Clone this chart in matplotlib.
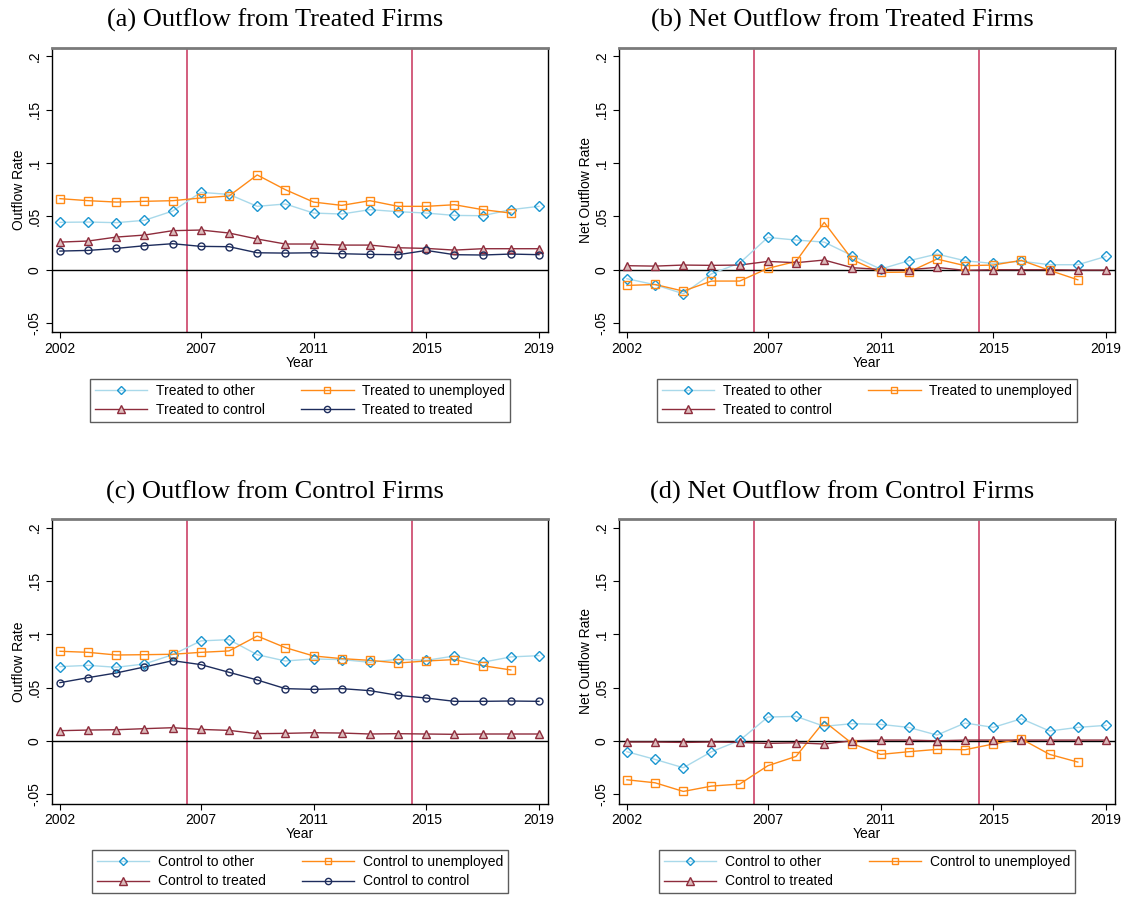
import matplotlib
matplotlib.use("Agg")
import matplotlib.pyplot as plt
from matplotlib.lines import Line2D

plt.rcParams['font.family'] = ['Liberation Sans', 'DejaVu Sans']

years = list(range(2002, 2020))
years_short = years[:-1]  # unemployed series stop in 2018
xticks = [2002, 2007, 2011, 2015, 2019]
yticks = [-0.05, 0, 0.05, 0.1, 0.15, 0.2]
ytick_labels = ['-.05', '0', '.05', '.1', '.15', '.2']
event_years = [2006.5, 2014.5]

# (a) Outflow from treated firms
a_other = [0.0444, 0.0447, 0.0441, 0.0463, 0.0550, 0.0725, 0.0706, 0.0594, 0.0616,
           0.0531, 0.0522, 0.0563, 0.0544, 0.0531, 0.0509, 0.0506, 0.0563, 0.0594]
a_unemp = [0.0666, 0.0647, 0.0634, 0.0641, 0.0647, 0.0672, 0.0691, 0.0888, 0.0750,
           0.0634, 0.0603, 0.0647, 0.0594, 0.0594, 0.0609, 0.0563, 0.0531]
a_control = [0.0259, 0.0269, 0.0306, 0.0325, 0.0366, 0.0372, 0.0344, 0.0288, 0.0241,
             0.0241, 0.0231, 0.0231, 0.0206, 0.0200, 0.0184, 0.0197, 0.0197, 0.0197]
a_treated = [0.0175, 0.0181, 0.0200, 0.0225, 0.0244, 0.0219, 0.0216, 0.0159, 0.0156,
             0.0159, 0.0150, 0.0144, 0.0141, 0.0181, 0.0141, 0.0138, 0.0147, 0.0141]

# (b) Net outflow from treated firms
b_other = [-0.0084, -0.0141, -0.0225, -0.0038, 0.0063, 0.0303, 0.0278, 0.0259, 0.0131,
           0.0006, 0.0084, 0.0147, 0.0084, 0.0059, 0.0080, 0.0047, 0.0047, 0.0125]
b_unemp = [-0.0147, -0.0138, -0.0200, -0.0106, -0.0106, 0.0013, 0.0078, 0.0444, 0.0094,
           -0.0025, -0.0022, 0.0100, 0.0038, 0.0044, 0.0088, -0.0006, -0.0094]
b_control = [0.0038, 0.0034, 0.0044, 0.0041, 0.0044, 0.0078, 0.0066, 0.0091, 0.0019,
             0.0003, 0.0000, 0.0022, -0.0006, 0.0000, 0.0000, 0.0000, -0.0003, -0.0003]

# (c) Outflow from control firms
c_other = [0.0697, 0.0709, 0.0691, 0.0722, 0.0809, 0.0938, 0.0950, 0.0809, 0.0750,
           0.0769, 0.0763, 0.0738, 0.0766, 0.0756, 0.0797, 0.0738, 0.0788, 0.0800]
c_unemp = [0.0841, 0.0831, 0.0806, 0.0809, 0.0813, 0.0831, 0.0844, 0.0984, 0.0875,
           0.0797, 0.0772, 0.0756, 0.0731, 0.0750, 0.0763, 0.0706, 0.0666]
c_treated = [0.0097, 0.0103, 0.0106, 0.0116, 0.0125, 0.0109, 0.0100, 0.0069, 0.0072,
             0.0078, 0.0075, 0.0066, 0.0069, 0.0066, 0.0063, 0.0066, 0.0066, 0.0066]
c_control = [0.0547, 0.0594, 0.0638, 0.0694, 0.0753, 0.0716, 0.0644, 0.0572, 0.0491,
             0.0484, 0.0491, 0.0472, 0.0428, 0.0403, 0.0372, 0.0372, 0.0375, 0.0372]

# (d) Net outflow from control firms
d_other = [-0.0100, -0.0172, -0.0250, -0.0100, 0.0006, 0.0225, 0.0231, 0.0138, 0.0163,
           0.0156, 0.0128, 0.0056, 0.0169, 0.0128, 0.0209, 0.0094, 0.0128, 0.0147]
d_unemp = [-0.0363, -0.0391, -0.0472, -0.0422, -0.0403, -0.0231, -0.0144, 0.0184, -0.0025,
           -0.0125, -0.0100, -0.0078, -0.0081, -0.0028, 0.0019, -0.0125, -0.0197]
d_treated = [-0.0009, -0.0009, -0.0013, -0.0009, -0.0013, -0.0022, -0.0016, -0.0028, 0.0003,
             0.0009, 0.0009, 0.0003, 0.0009, 0.0009, 0.0009, 0.0009, 0.0009, 0.0009]

# styles: (line colour, marker, marker edge, marker face, size)
STY = {
    'other': ('#a9d9ea', 'D', '#1b96d0', 'none', 5.0),
    'unemp': ('#ff8a17', 's', '#ff8a17', 'none', 5.2),
    'tri': ('#8e2c3c', '^', '#8e2c3c', '#dcbcbc', 5.6),
    'circ': ('#1d2c5c', 'o', '#1d2c5c', 'none', 5.0),
}

W, H = 1126, 898
fig = plt.figure(figsize=(W / 100, H / 100), dpi=100)

panels = [
    dict(pos=(51.5, 47.7), title='(a) Outflow from Treated Firms', ylabel='Outflow Rate',
         series=[(years, a_other, 'other', 'Treated to other'),
                 (years_short, a_unemp, 'unemp', 'Treated to unemployed'),
                 (years, a_control, 'tri', 'Treated to control'),
                 (years, a_treated, 'circ', 'Treated to treated')]),
    dict(pos=(618.5, 47.7), title='(b) Net Outflow from Treated Firms', ylabel='Net Outflow Rate',
         series=[(years, b_other, 'other', 'Treated to other'),
                 (years_short, b_unemp, 'unemp', 'Treated to unemployed'),
                 (years, b_control, 'tri', 'Treated to control')]),
    dict(pos=(51.5, 519), title='(c) Outflow from Control Firms', ylabel='Outflow Rate',
         series=[(years, c_other, 'other', 'Control to other'),
                 (years_short, c_unemp, 'unemp', 'Control to unemployed'),
                 (years, c_treated, 'tri', 'Control to treated'),
                 (years, c_control, 'circ', 'Control to control')]),
    dict(pos=(618.5, 519), title='(d) Net Outflow from Control Firms', ylabel='Net Outflow Rate',
         series=[(years, d_other, 'other', 'Control to other'),
                 (years_short, d_unemp, 'unemp', 'Control to unemployed'),
                 (years, d_treated, 'tri', 'Control to treated')]),
]

ax_w, ax_h = 496.5, 284.5

for p in panels:
    left, top = p['pos']
    ax = fig.add_axes([left / W, 1 - (top + ax_h) / H, ax_w / W, ax_h / H])
    for ev in event_years:
        ax.axvline(ev, color='#c8325a', lw=1.1, zorder=1)
    ax.axhline(0, color='black', lw=1.0, zorder=1)

    handles = []
    for xs, ys, key, lab in p['series']:
        lc, mk, me, mf, ms = STY[key]
        ax.plot(xs, ys, color=lc, lw=1.0, zorder=2)
        ax.plot(xs, ys, ls='none', marker=mk, mec=me, mfc=mf, ms=ms, mew=1.0, zorder=3)
        handles.append(Line2D([], [], color=lc, lw=1.0, marker=mk, mec=me, mfc=mf,
                              ms=ms - 0.5, mew=1.0, label=lab))

    ax.set_xlim(2001.70, 2019.32)
    ax.set_ylim(-0.0585, 0.208)
    ax.set_xticks(xticks)
    ax.set_yticks(yticks)
    ax.set_yticklabels(ytick_labels, rotation=90, va='center')
    ax.tick_params(axis='both', direction='out', length=4, width=0.8, labelsize=10,
                   color='black', pad=3)
    ax.set_xlabel('Year', fontsize=10, labelpad=0)
    ax.set_ylabel(p['ylabel'], fontsize=10, labelpad=1)
    for side in ['left', 'bottom', 'right']:
        ax.spines[side].set_color('black')
        ax.spines[side].set_linewidth(1.0)
    ax.spines['top'].set_color('#7a7a7a')
    ax.spines['top'].set_linewidth(2.0)

    # Stata fills legends row-wise; matplotlib fills column-wise
    order = [0, 2, 1, 3] if len(handles) == 4 else [0, 2, 1]
    cx = (left + ax_w / 2) / W
    leg_top = 1 - (top + ax_h + 46.5) / H
    leg = fig.legend([handles[i] for i in order], [handles[i].get_label() for i in order],
                     ncol=2, loc='upper center', bbox_to_anchor=(cx, leg_top),
                     bbox_transform=fig.transFigure, fontsize=10, frameon=True,
                     fancybox=False, shadow=False, handlelength=3.8, handletextpad=0.6,
                     columnspacing=2.6, labelspacing=0.4, borderpad=0.35,
                     borderaxespad=0)
    leg.get_frame().set_edgecolor('#333333')
    leg.get_frame().set_linewidth(1.0)

    fig.text((left - 24.5 + ax_w / 2) / W, 1 - (top - 20.7) / H, p['title'],
             family=['Liberation Serif', 'DejaVu Serif'], fontsize=19,
             ha='center', va='baseline')

fig.savefig('out.png', dpi=100)
